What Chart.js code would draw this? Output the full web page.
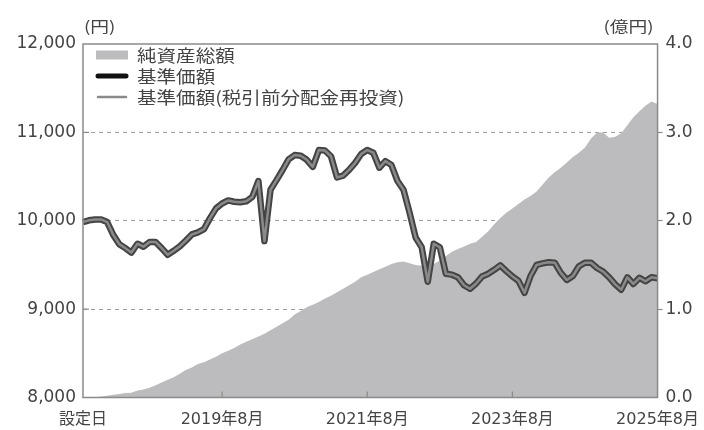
<!DOCTYPE html>
<html><head><meta charset="utf-8">
<script src="https://cdn.jsdelivr.net/npm/chart.js@4"></script>
<style>html,body{margin:0;padding:0;background:#fff}#wrap{width:704px;height:430px;position:relative}</style>
</head><body><div id="wrap"><canvas id="c"></canvas></div>
<script>
// Months from the fund's setting date (2017/9) to 2025/8
const startYear = 2017, startMonth = 9, monthCount = 96;
const months = [];
for (let k = 0; k < monthCount; k++) {
  const m = startMonth - 1 + k;
  months.push((startYear + Math.floor(m / 12)) + '/' + (m % 12 + 1));
}
const xTickKeys = ['2017/9', '2019/8', '2021/8', '2023/8', '2025/8'];
const xTickText = ['設定日', '2019年8月', '2021年8月', '2023年8月', '2025年8月'];

const seriesNames = ['純資産総額', '基準価額', '基準価額(税引前分配金再投資)'];

// 基準価額 (円)
const navYen = [
  9985,10005,10015,10015,9985,9840,9735,9690,9640,9740,
  9706,9760,9760,9690,9615,9660,9710,9775,9845,9868,
  9905,10030,10140,10195,10230,10215,10210,10220,10270,10450,
  9770,10350,10460,10574,10695,10743,10735,10690,10610,10800,
  10795,10730,10490,10510,10575,10655,10755,10800,10770,10600,
  10675,10630,10450,10350,10090,9810,9700,9310,9740,9700,
  9400,9390,9360,9270,9230,9290,9370,9400,9445,9495,
  9430,9370,9320,9185,9375,9500,9518,9530,9525,9410,
  9330,9375,9485,9525,9525,9465,9425,9360,9280,9220,
  9360,9285,9355,9315,9360,9350
];
// 基準価額(税引前分配金再投資) (円)
const navReinvested = [
  9985,10005,10015,10015,9985,9840,9735,9690,9640,9740,
  9706,9760,9760,9690,9615,9660,9710,9775,9845,9868,
  9905,10030,10140,10195,10230,10215,10210,10220,10270,10450,
  9770,10350,10460,10574,10695,10743,10735,10690,10610,10800,
  10795,10730,10490,10510,10575,10655,10755,10800,10770,10600,
  10675,10630,10450,10350,10090,9810,9700,9310,9740,9700,
  9400,9390,9360,9270,9230,9290,9370,9400,9445,9495,
  9430,9370,9320,9185,9375,9500,9518,9530,9525,9410,
  9330,9375,9485,9525,9525,9465,9425,9360,9280,9220,
  9360,9285,9355,9315,9360,9350
];
// 純資産総額 (億円)
const netAssetsOku = [
  0,0,0,0.01,0.02,0.03,0.04,0.05,0.055,0.08,
  0.09,0.11,0.14,0.17,0.20,0.23,0.27,0.31,0.34,0.38,
  0.40,0.43,0.46,0.50,0.53,0.56,0.60,0.63,0.66,0.69,
  0.72,0.76,0.80,0.84,0.88,0.94,0.98,1.02,1.05,1.08,
  1.12,1.15,1.19,1.23,1.27,1.31,1.36,1.39,1.42,1.45,
  1.48,1.51,1.53,1.54,1.52,1.50,1.49,1.49,1.51,1.55,
  1.60,1.65,1.68,1.71,1.74,1.76,1.82,1.88,1.96,2.03,
  2.09,2.14,2.19,2.24,2.28,2.33,2.41,2.49,2.55,2.60,
  2.66,2.72,2.77,2.83,2.93,3.00,3.00,2.94,2.95,2.99,
  3.08,3.17,3.24,3.30,3.35,3.32
];

const leftMin = 8000, leftMax = 12000, leftStep = 1000;
const rightMin = 0, rightMax = 4, rightStep = 1;
const leftUnit = '(円)', rightUnit = '(億円)';

const AREA = '#bcbcbe', DARK = '#444444', MID = '#8a8a8a', TXT = '#444444', AXIS = '#8a8a8a';
const NUMFONT = '"DejaVu Sans", "Noto Sans CJK JP", sans-serif';
const JPFONT = '"Noto Sans CJK JP", sans-serif';

const deco = {
  id: 'deco',
  afterDraw(chart) {
    const {ctx, chartArea: a, scales} = chart;
    ctx.save();
    // frame
    ctx.strokeStyle = AXIS; ctx.lineWidth = 1.5; ctx.setLineDash([]);
    ctx.strokeRect(a.left, a.top, a.right - a.left, a.bottom - a.top);
    // inner ticks on x axis
    ctx.lineWidth = 1.2;
    xTickKeys.slice(1, -1).forEach(k => {
      const x = scales.x.getPixelForValue(months.indexOf(k));
      ctx.beginPath(); ctx.moveTo(x, a.bottom); ctx.lineTo(x, a.bottom - 6); ctx.stroke();
    });
    // inner ticks on left axis
    for (let v = leftMin + leftStep; v < leftMax; v += leftStep) {
      const y = scales.y.getPixelForValue(v);
      ctx.beginPath(); ctx.moveTo(a.left, y); ctx.lineTo(a.left + 6, y); ctx.stroke();
    }
    // units
    ctx.fillStyle = TXT; ctx.textBaseline = 'middle';
    ctx.font = '15px ' + JPFONT;
    ctx.save(); ctx.translate(a.left + 1, 26); ctx.scale(1.25, 1); ctx.textAlign = 'left'; ctx.fillText(leftUnit, 0, 0); ctx.restore();
    ctx.save(); ctx.translate(a.right - 4, 26); ctx.scale(1.25, 1); ctx.textAlign = 'right'; ctx.fillText(rightUnit, 0, 0); ctx.restore();
    // legend
    const lx = a.left + 13, ly = a.top + 11, lh = 21;
    seriesNames.forEach((name, i) => {
      const y = ly + i * lh;
      if (i === 0) { ctx.fillStyle = AREA; ctx.fillRect(lx, y - 4.5, 32, 9); }
      else {
        ctx.strokeStyle = i === 1 ? '#111' : MID; ctx.lineWidth = i === 1 ? 5 : 2.5; ctx.lineCap = 'round';
        ctx.beginPath(); ctx.moveTo(lx + 2, y); ctx.lineTo(lx + 30, y); ctx.stroke();
      }
      ctx.fillStyle = TXT; ctx.font = '17px ' + JPFONT; ctx.textAlign = 'left';
      ctx.save(); ctx.translate(lx + 41, y + 1); ctx.scale(1.15, 1); ctx.fillText(name, 0, 0); ctx.restore();
    });
    ctx.restore();
  }
};

new Chart(document.getElementById('c'), {
  type: 'line',
  data: {
    labels: months,
    datasets: [
      { label: seriesNames[2], data: navReinvested, yAxisID: 'y', borderColor: MID, borderWidth: 2.5, borderJoinStyle: 'round', pointRadius: 0, tension: 0, fill: false, order: 1 },
      { label: seriesNames[1], data: navYen, yAxisID: 'y', borderColor: DARK, borderWidth: 6.5, borderJoinStyle: 'round', pointRadius: 0, tension: 0, fill: false, order: 2 },
      { label: seriesNames[0], data: netAssetsOku, yAxisID: 'y2', borderColor: AREA, borderWidth: 0, backgroundColor: AREA, pointRadius: 0, tension: 0, fill: 'origin', order: 3 }
    ]
  },
  options: {
    responsive: true, maintainAspectRatio: false, animation: false,
    layout: { padding: { top: 44, left: 0, right: 0, bottom: 0 } },
    plugins: { legend: { display: false }, tooltip: { enabled: false } },
    scales: {
      x: {
        type: 'category', offset: false,
        grid: { display: false }, border: { display: false },
        ticks: {
          autoSkip: false, maxRotation: 0, minRotation: 0, padding: 5,
          color: TXT, font: { family: NUMFONT, size: 16 },
          callback: (v, i) => { const k = xTickKeys.indexOf(months[i]); return k >= 0 ? xTickText[k] : ''; }
        },
        afterFit: s => { s.height = 32.5; }
      },
      y: {
        position: 'left', min: leftMin, max: leftMax,
        ticks: { stepSize: leftStep, padding: 7, color: TXT, font: { family: NUMFONT, size: 17 },
          callback: v => v.toLocaleString('en-US') },
        grid: { drawTicks: false, lineWidth: 1, color: c => (c.tick && (c.tick.value === leftMin || c.tick.value === leftMax)) ? 'rgba(0,0,0,0)' : '#a0a0a0' },
        border: { display: false, dash: [4, 4] },
        afterFit: s => { s.width = 83; }
      },
      y2: {
        position: 'right', min: rightMin, max: rightMax,
        ticks: { stepSize: rightStep, padding: 3, color: TXT, font: { family: NUMFONT, size: 17 },
          callback: v => v.toFixed(1) },
        grid: { drawOnChartArea: false, drawTicks: true, tickLength: 5, tickWidth: 1.2,
          tickColor: c => (c.tick && (c.tick.value === rightMin || c.tick.value === rightMax)) ? 'rgba(0,0,0,0)' : AXIS },
        border: { display: false },
        afterFit: s => { s.width = 44; }
      }
    }
  },
  plugins: [deco]
});
</script>
</body></html>
